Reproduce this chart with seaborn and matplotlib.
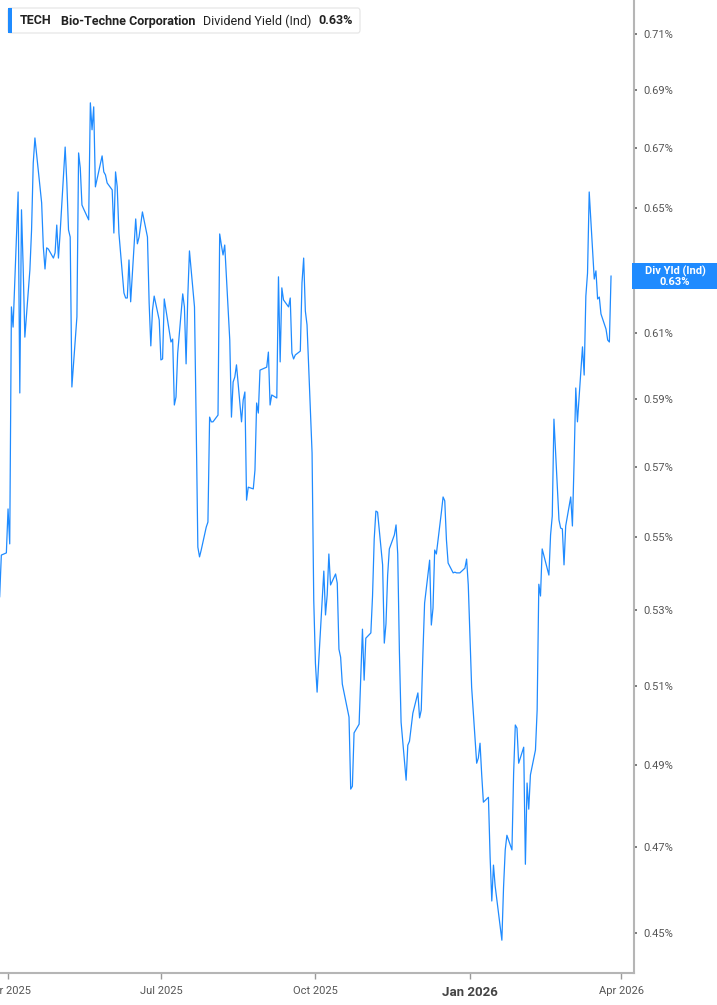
import pandas as pd
import matplotlib.pyplot as plt
import matplotlib.transforms as mtransforms
from matplotlib.patches import FancyBboxPatch, Rectangle
from matplotlib.ticker import NullLocator
import seaborn as sns

# dividend yield (%) per trading day
yld_apr_may = [0.5336, 0.5451, 0.5457, 0.5580, 0.5482, 0.6182, 0.6119, 0.6553, 0.5918, 0.6494,
               0.6308, 0.6088, 0.6299, 0.6428, 0.6650, 0.6735, 0.6517, 0.6373, 0.6302, 0.6370,
               0.6366, 0.6337, 0.6354, 0.6444, 0.6337, 0.6418, 0.6704, 0.6583, 0.6428, 0.6405,
               0.5936, 0.6151, 0.6684, 0.6633, 0.6510, 0.6497, 0.6461, 0.6856, 0.6763, 0.6842,
               0.6570, 0.6674, 0.6620, 0.6610, 0.6583]
yld_jun_jul = [0.6560, 0.6418, 0.6620, 0.6570, 0.6418, 0.6226, 0.6210, 0.6210, 0.6331, 0.6198,
               0.6464, 0.6383, 0.6405, 0.6487, 0.6405, 0.6194, 0.6061, 0.6172, 0.6216, 0.6141,
               0.6018, 0.6021, 0.6207, 0.6073, 0.6082, 0.5882, 0.5906, 0.6039, 0.6223, 0.6182,
               0.6006, 0.6213, 0.6360, 0.6182, 0.5829, 0.5473, 0.5446, 0.5465, 0.5529, 0.5543]
yld_aug_sep = [0.5846, 0.5832, 0.5832, 0.5852, 0.6415, 0.6379, 0.6347, 0.6379, 0.6079, 0.5846,
               0.5951, 0.5966, 0.6003, 0.5832, 0.5897, 0.5921, 0.5605, 0.5642, 0.5637, 0.5691,
               0.5888, 0.5858, 0.5987, 0.5996, 0.6042, 0.5882, 0.5912, 0.5903, 0.6277, 0.6012,
               0.6242, 0.6204, 0.6182, 0.6210, 0.6039, 0.6021, 0.6033, 0.6045, 0.6258, 0.6337]
yld_oct_nov = [0.6169, 0.6126, 0.5741, 0.5328, 0.5160, 0.5085, 0.5168, 0.5407, 0.5288, 0.5342,
               0.5454, 0.5369, 0.5399, 0.5374, 0.5197, 0.5176, 0.5106, 0.5042, 0.5021, 0.4841,
               0.4848, 0.4981, 0.5003, 0.5129, 0.5250, 0.5116, 0.5226, 0.5240, 0.5339, 0.5496,
               0.5574, 0.5571, 0.5424, 0.5213, 0.5264, 0.5396, 0.5468, 0.5507, 0.5535, 0.5454,
               0.5189, 0.5008, 0.4863]
yld_dec_jan = [0.4950, 0.4960, 0.5031, 0.5083, 0.5019, 0.5039, 0.5187, 0.5320, 0.5437, 0.5261,
               0.5306, 0.5465, 0.5454, 0.5571, 0.5614, 0.5603, 0.5493, 0.5429, 0.5402, 0.5404,
               0.5402, 0.5402, 0.5415, 0.5440, 0.5369, 0.5098, 0.4905, 0.4918, 0.4955, 0.4876,
               0.4809, 0.4821, 0.4677, 0.4574, 0.4658, 0.4609, 0.4484, 0.4606, 0.4694, 0.4729,
               0.4694, 0.4880, 0.5001, 0.4993, 0.4905, 0.4945, 0.4660]
yld_feb_mar = [0.4856, 0.4792, 0.4876, 0.4938, 0.5039, 0.5371, 0.5339, 0.5468, 0.5396, 0.5507,
               0.5560, 0.5840, 0.5549, 0.5526, 0.5524, 0.5424, 0.5532, 0.5614, 0.5532, 0.5717,
               0.5933, 0.5832, 0.6058, 0.5972, 0.6216, 0.6289, 0.6553, 0.6270, 0.6296, 0.6207,
               0.6213, 0.6160, 0.6113, 0.6079, 0.6073, 0.6280]

market_holidays = ['2025-04-18', '2025-05-26', '2025-06-19', '2025-07-04', '2025-09-01',
                   '2025-11-27', '2025-12-25', '2026-01-01', '2026-01-19', '2026-02-16']
start_date = '2025-03-27'

y_ticks = [0.45, 0.47, 0.49, 0.51, 0.53, 0.55, 0.57, 0.59, 0.61, 0.63, 0.65, 0.67, 0.69, 0.71]
y_ticks_shown = [t for t in y_ticks if t != 0.63]  # 0.63 is hidden under the value tag
x_tick_dates = ['2025-04-01', '2025-07-01', '2025-10-01', '2026-01-01', '2026-04-01']
x_tick_labels = ['Apr 2025', 'Jul 2025', 'Oct 2025', 'Jan 2026', 'Apr 2026']

values = yld_apr_may + yld_jun_jul + yld_aug_sep + yld_oct_nov + yld_dec_jan + yld_feb_mar
dates = pd.bdate_range(start_date, periods=len(values), freq='C', holidays=market_holidays)
df = pd.DataFrame({'date': dates, 'yield': values})

sns.set_style('white')
plt.rcParams['font.family'] = ['Roboto', 'DejaVu Sans']

blue = '#1f8bff'
W, H = 717, 1005
fig = plt.figure(figsize=(W / 100, H / 100), dpi=100)
ax = fig.add_axes([0, 1 - 973 / H, 634 / W, 973 / H])

sns.lineplot(data=df, x='date', y='yield', ax=ax, color=blue, linewidth=0.9)

ax.set_yscale('log')
ax.set_ylim(0.4410, 0.7223)
ax.set_xlim(pd.Timestamp('2025-03-27 05:00'), pd.Timestamp('2026-04-08 16:00'))

ax.yaxis.tick_right()
ax.set_yticks(y_ticks_shown)
ax.set_yticklabels([f'{t:.2f}%' for t in y_ticks_shown])
ax.yaxis.set_minor_locator(NullLocator())
ax.tick_params(axis='y', which='major', right=True, left=False, length=2.5, width=1.2,
               color='#666666', labelsize=8, labelcolor='#555555', pad=4)

ax.set_xticks(pd.to_datetime(x_tick_dates))
ax.set_xticklabels(x_tick_labels)
ax.tick_params(axis='x', bottom=True, length=4, width=1, color='#999999', labelsize=8,
               labelcolor='#555555', pad=5)
ax.get_xticklabels()[3].set_fontweight('bold')
ax.get_xticklabels()[3].set_fontsize(9.5)
ax.get_xticklabels()[3].set_color('#444444')

ax.set_xlabel('')
ax.set_ylabel('')
for side in ['left', 'top']:
    ax.spines[side].set_visible(False)
for side in ['right', 'bottom']:
    ax.spines[side].set_color('#b5b5b5')
    ax.spines[side].set_linewidth(1.5)

# current value tag on the right axis (85 x 26 px box at the last value)
trans = mtransforms.blended_transform_factory(fig.transFigure, ax.transData)
tag = Rectangle((0, -13), 85, 26, fc=blue, ec='none', clip_on=False,
                transform=mtransforms.Affine2D() + mtransforms.ScaledTranslation(
                    632 / W, values[-1], trans))
fig.add_artist(tag)
fig.text(675 / W, values[-1], f'Div Yld (Ind)\n{values[-1]:.2f}%', transform=trans,
         ha='center', va='center', ma='center', fontsize=8, fontweight='bold', color='white',
         linespacing=1.0)

# header legend box
fig.patches.append(FancyBboxPatch((8 / W, 1 - 33 / H), 352 / W, 25 / H,
                                  boxstyle='round,pad=0,rounding_size=0.003',
                                  transform=fig.transFigure, fc='white', ec='#e4e4e4', lw=0.8))
fig.patches.append(Rectangle((8 / W, 1 - 33 / H), 4 / W, 25 / H,
                             transform=fig.transFigure, fc=blue, ec='none'))
ty = 1 - 21 / H
fig.text(20 / W, ty, 'TECH', fontsize=9, fontweight='bold', color='#222222', va='center')
fig.text(61 / W, ty, 'Bio-Techne Corporation', fontsize=9, fontweight='bold',
         color='#222222', va='center')
fig.text(203 / W, ty, 'Dividend Yield (Ind)', fontsize=9, color='#222222', va='center')
fig.text(318 / W, ty, f'{values[-1]:.2f}%', fontsize=9, fontweight='bold',
         color='#222222', va='center')

fig.savefig('out.png', dpi=100)
